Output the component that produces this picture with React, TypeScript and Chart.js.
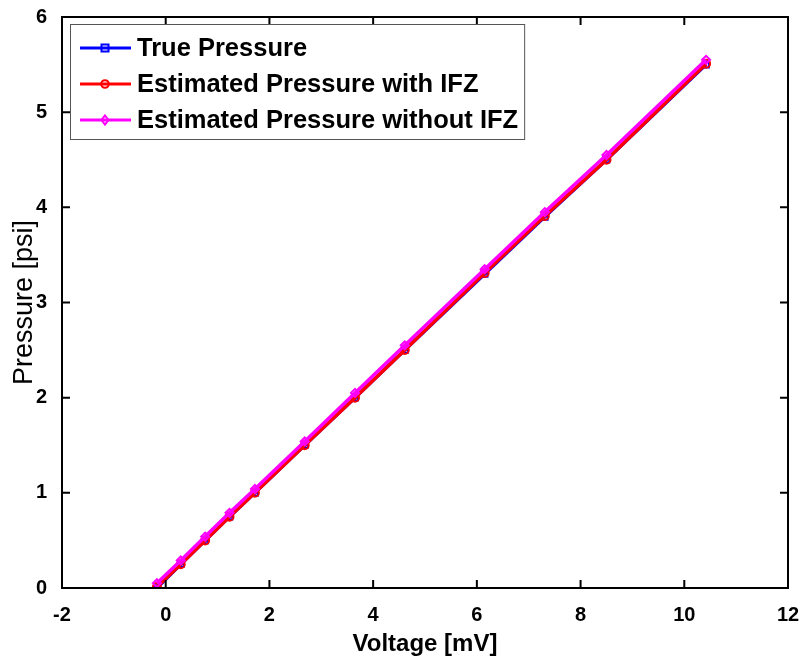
import React, { useEffect, useRef } from 'react';
import { Chart, registerables } from 'chart.js';

Chart.register(...registerables);

const voltage = [-0.17, 0.29, 0.76, 1.23, 1.72, 2.68, 3.65, 4.61, 6.15, 7.31, 8.5, 10.42];
const truePressure = [0.0, 0.25, 0.5, 0.75, 1.0, 1.5, 2.0, 2.5, 3.3, 3.9, 4.5, 5.5];
const pressureWithIFZ = [0.01, 0.25, 0.5, 0.75, 1.0, 1.5, 2.0, 2.5, 3.31, 3.91, 4.5, 5.51];
const pressureWithoutIFZ = [0.05, 0.29, 0.54, 0.79, 1.04, 1.54, 2.05, 2.55, 3.35, 3.95, 4.55, 5.55];
const seriesNames = ['True Pressure', 'Estimated Pressure with IFZ', 'Estimated Pressure without IFZ'];
const seriesColors = ['#0000ff', '#ff0000', '#ff00ff'];
const seriesMarkers = ['rect', 'circle', 'rectRot'];
const xTicks = [-2, 0, 2, 4, 6, 8, 10, 12];
const yTicks = [0, 1, 2, 3, 4, 5, 6];
const xTitle = 'Voltage [mV]';
const yTitle = 'Pressure [psi]';

const FONT = '"Liberation Sans", Arial, Helvetica, sans-serif';

const framePlugin = {
  id: 'frameTicks',
  afterDatasetsDraw(chart: any) {
    const { ctx, chartArea: a, scales } = chart;
    const xs = scales.x;
    const ys = scales.y;
    const len = 8;
    ctx.save();
    ctx.strokeStyle = '#000';
    ctx.lineWidth = 2;
    ctx.beginPath();
    xTicks.forEach((t) => {
      const px = xs.getPixelForValue(t);
      ctx.moveTo(px, a.bottom);
      ctx.lineTo(px, a.bottom - len);
      ctx.moveTo(px, a.top);
      ctx.lineTo(px, a.top + len);
    });
    yTicks.forEach((t) => {
      const py = ys.getPixelForValue(t);
      ctx.moveTo(a.left, py);
      ctx.lineTo(a.left + len, py);
      ctx.moveTo(a.right, py);
      ctx.lineTo(a.right - len, py);
    });
    ctx.stroke();
    ctx.strokeRect(a.left, a.top, a.right - a.left, a.bottom - a.top);
    ctx.restore();
  },
};

const legendPlugin = {
  id: 'insideLegend',
  afterDraw(chart: any) {
    const { ctx, chartArea: a } = chart;
    const datasets = chart.data.datasets;
    ctx.save();
    ctx.font = `bold 25.5px ${FONT}`;
    let maxW = 0;
    datasets.forEach((d: any) => {
      maxW = Math.max(maxW, ctx.measureText(d.label).width);
    });
    const left = a.left + 8;
    const top = a.top + 7;
    const textX = left + 67;
    const width = 67 + maxW + 6;
    const rowGap = 36;
    const height = 115;
    ctx.fillStyle = '#fff';
    ctx.fillRect(left, top, width, height);
    ctx.strokeStyle = '#555';
    ctx.lineWidth = 1;
    ctx.strokeRect(left + 0.5, top + 0.5, width, height);
    datasets.forEach((d: any, i: number) => {
      const y = top + 24 + i * rowGap;
      ctx.strokeStyle = d.borderColor;
      ctx.lineWidth = 3;
      ctx.beginPath();
      ctx.moveTo(left + 10, y);
      ctx.lineTo(left + 61, y);
      ctx.stroke();
      const cx = left + 35;
      ctx.lineWidth = 2;
      ctx.beginPath();
      if (d.pointStyle === 'rect') {
        ctx.rect(cx - 3.5, y - 3.5, 7, 7);
      } else if (d.pointStyle === 'circle') {
        ctx.arc(cx, y, 3.8, 0, Math.PI * 2);
      } else {
        ctx.moveTo(cx, y - 4.5);
        ctx.lineTo(cx + 3.5, y);
        ctx.lineTo(cx, y + 4.5);
        ctx.lineTo(cx - 3.5, y);
        ctx.closePath();
      }
      ctx.stroke();
      ctx.fillStyle = '#000';
      ctx.textBaseline = 'middle';
      ctx.textAlign = 'left';
      ctx.fillText(d.label, textX, y + 1);
    });
    ctx.restore();
  },
};

export default function App() {
  const canvasRef = useRef<HTMLCanvasElement | null>(null);

  useEffect(() => {
    document.body.style.margin = '0';
    const canvas = canvasRef.current;
    if (!canvas) return;
    const seriesValues = [truePressure, pressureWithIFZ, pressureWithoutIFZ];
    const chart = new Chart(canvas, {
      type: 'line',
      data: {
        datasets: seriesValues.map((vals, i) => ({
          label: seriesNames[i],
          data: voltage.map((v, j) => ({ x: v, y: vals[j] })),
          borderColor: seriesColors[i],
          backgroundColor: seriesColors[i],
          borderWidth: 3.5,
          pointStyle: seriesMarkers[i] as any,
          pointRadius: 4,
          pointBorderWidth: 2,
          pointBackgroundColor: 'rgba(0,0,0,0)',
          pointBorderColor: seriesColors[i],
          tension: 0,
          fill: false,
          order: 2 - i,
        })),
      },
      options: {
        animation: false,
        responsive: false,
        maintainAspectRatio: false,
        layout: { padding: { top: 17, right: 16, left: 0, bottom: 0 } },
        plugins: {
          legend: { display: false },
          tooltip: { enabled: false },
        },
        scales: {
          x: {
            type: 'linear',
            min: xTicks[0],
            max: xTicks[xTicks.length - 1],
            afterFit: (axis: any) => {
              axis.height = 75;
              axis.paddingLeft = 0;
              axis.paddingRight = 0;
            },
            afterBuildTicks: (axis: any) => {
              axis.ticks = xTicks.map((v) => ({ value: v }));
            },
            grid: { display: false },
            border: { display: false },
            ticks: {
              color: '#000',
              font: { family: FONT, size: 20, weight: 'bold' },
              padding: 7,
              maxRotation: 0,
              autoSkip: false,
              callback: (v: any) => String(v),
            },
            title: {
              display: true,
              text: xTitle,
              color: '#000',
              font: { family: FONT, size: 24, weight: 'bold' },
              padding: { top: 0, bottom: 4 },
            },
          },
          y: {
            type: 'linear',
            min: yTicks[0],
            max: yTicks[yTicks.length - 1],
            afterFit: (axis: any) => {
              axis.width = 62;
              axis.paddingTop = 0;
              axis.paddingBottom = 0;
            },
            afterBuildTicks: (axis: any) => {
              axis.ticks = yTicks.map((v) => ({ value: v }));
            },
            grid: { display: false },
            border: { display: false },
            ticks: {
              color: '#000',
              font: { family: FONT, size: 20, weight: 'bold' },
              padding: 7,
              autoSkip: false,
              callback: (v: any) => String(v),
            },
            title: {
              display: true,
              text: yTitle,
              color: '#000',
              font: { family: FONT, size: 27, weight: 'normal' },
              padding: { top: 8, bottom: 0 },
            },
          },
        },
      },
      plugins: [framePlugin, legendPlugin],
    });
    return () => chart.destroy();
  }, []);

  return (
    <div style={{ width: 804, height: 663 }}>
      <canvas ref={canvasRef} width={804} height={663} style={{ width: 804, height: 663, display: 'block' }} />
    </div>
  );
}
